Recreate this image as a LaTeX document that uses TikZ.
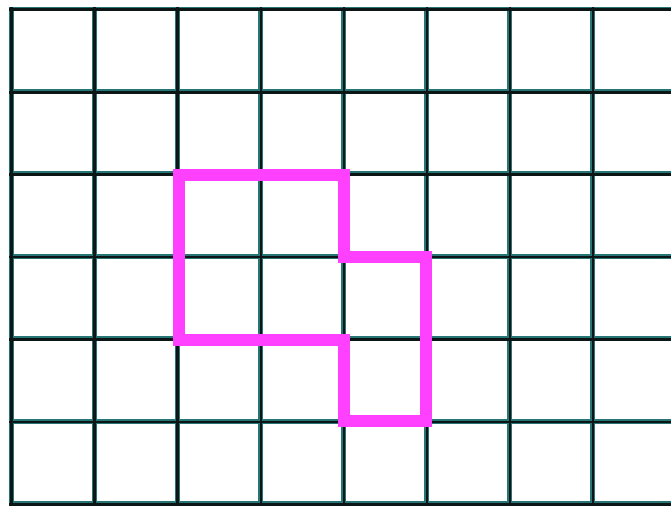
\documentclass[tikz,border=0pt]{standalone}
\usepackage{xcolor}
\usepackage{tikz}

\definecolor{gridteal}{RGB}{38,118,118}
\definecolor{gridcore}{RGB}{12,22,22}
\definecolor{pathpink}{RGB}{255,64,255}

\begin{document}
\begin{tikzpicture}[
  x=1cm, y=0.993cm,
  gridedge/.style={draw=gridteal, line width=1.7pt},
  gridline/.style={draw=gridcore, line width=0.95pt},
  outline/.style={draw=pathpink, line width=4.1pt, line join=miter},
]
  \useasboundingbox (0,0) rectangle (8.084,-6.129);
  \clip (0,0) rectangle (8.084,-6.129);
  \fill[white] (0,0) rectangle (8.084,-6.129);

  % grid
  \foreach \c in {0,...,7}
    \draw[gridedge] (0.133+\c,-0.109+0.03) -- (0.133+\c,-6.4);
  \foreach \r in {0,...,6}
    \draw[gridedge] (0.133-0.03,-0.109-\r) -- (8.3,-0.109-\r);
  \foreach \c in {0,...,7}
    \draw[gridline] (0.143+\c,-0.109+0.02) -- (0.143+\c,-6.4);
  \foreach \r in {0,...,6}
    \draw[gridline] (0.133-0.02,-0.119-\r) -- (8.3,-0.119-\r);

  % polyomino outline
  \draw[outline] (2.16,-2.12) -- (4.14,-2.12) -- (4.14,-3.12) -- (5.133,-3.12)
    -- (5.133,-5.109) -- (4.14,-5.109) -- (4.14,-4.12) -- (2.16,-4.12) -- cycle;
\end{tikzpicture}
\end{document}
